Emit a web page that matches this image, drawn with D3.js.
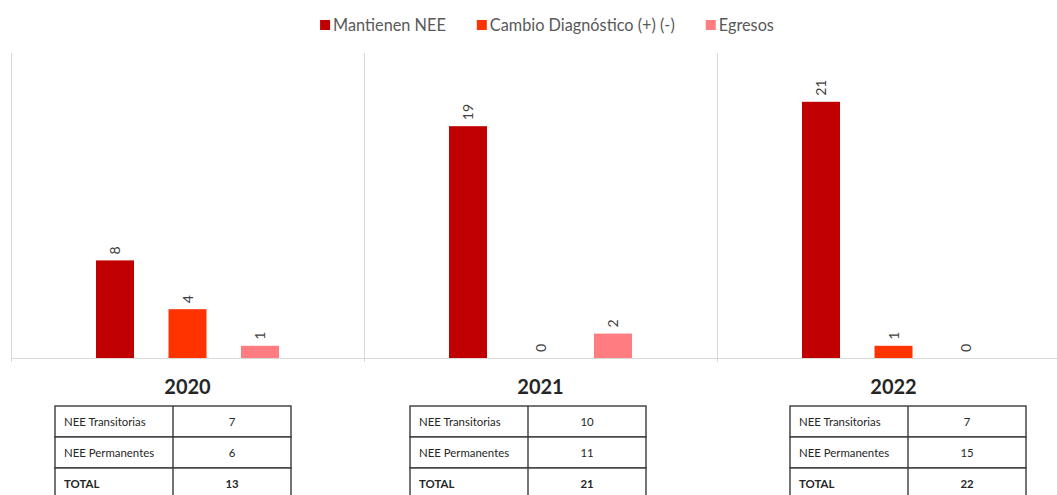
<!DOCTYPE html>
<html>
<head>
<meta charset="utf-8">
<script src="https://cdn.jsdelivr.net/npm/d3@7"></script>
<style>
  html, body { margin: 0; padding: 0; background: #fff; }
  svg { display: block; font-family: Lato, "Open Sans", sans-serif; }
</style>
</head>
<body>
<svg id="chart" width="1057" height="495"></svg>
<script>
// ---- data ----
const years = ["2020", "2021", "2022"];
const seriesNames = ["Mantienen NEE", "Cambio Diagnóstico (+) (-)", "Egresos"];
const mantienen = [8, 19, 21];
const cambio = [4, 0, 1];
const egresos = [1, 2, 0];
const seriesColors = ["#C00000", "#FF3300", "#FF7C80"];
const tableLabels = ["NEE Transitorias", "NEE Permanentes", "TOTAL"];
const transitorias = [7, 10, 7];
const permanentes = [6, 11, 15];
const totals = [13, 21, 22];

// ---- layout ----
const W = 1057, H = 495;
const plotTop = 53, baseY = 358;
const svg = d3.select("#chart");

const x = d3.scaleBand().domain(years).range([11, 1070]).padding(0);
const xs = d3.scalePoint().domain(seriesNames).range([-72.5, 72.5]);
const barW = 38;
const y = d3.scaleLinear().domain([0, 25]).range([baseY, plotTop]);

const seriesValues = [mantienen, cambio, egresos];
const barData = [];
years.forEach((yr, i) => {
  seriesNames.forEach((s, j) => {
    barData.push({ year: yr, series: s, value: seriesValues[j][i], color: seriesColors[j] });
  });
});

// separators (category boundaries)
svg.append("g").selectAll("line").data(years).join("line")
  .attr("x1", d => Math.round(x(d)) + 0.5).attr("x2", d => Math.round(x(d)) + 0.5)
  .attr("y1", plotTop).attr("y2", baseY + 4)
  .attr("stroke", "#d9d9d9").attr("stroke-width", 1);

// axis baseline
svg.append("line")
  .attr("x1", x.range()[0]).attr("x2", x.range()[1])
  .attr("y1", baseY + 0.5).attr("y2", baseY + 0.5)
  .attr("stroke", "#d9d9d9").attr("stroke-width", 1);

// bars
const cx = d => x(d.year) + x.bandwidth() / 2 + xs(d.series);
svg.append("g").selectAll("rect").data(barData).join("rect")
  .attr("x", d => cx(d) - barW / 2)
  .attr("y", d => y(d.value))
  .attr("width", barW)
  .attr("height", d => baseY - y(d.value))
  .attr("fill", d => d.color);

// data labels (rotated)
svg.append("g").selectAll("text").data(barData).join("text")
  .attr("transform", d => `translate(${cx(d) + 5},${y(d.value) - 6}) rotate(-90)`)
  .attr("text-anchor", "start")
  .attr("font-size", 14)
  .attr("fill", "#404040")
  .text(d => d.value);

// year labels
svg.append("g").selectAll("text").data(years).join("text")
  .attr("x", d => x(d) + x.bandwidth() / 2)
  .attr("y", 394)
  .attr("text-anchor", "middle")
  .attr("font-size", 20)
  .attr("font-weight", "bold")
  .attr("fill", "#262626")
  .text(d => d);

// tables
const tableOffsets = [44, 46, 73];
const tW = 236, col1 = 118, rowH = 31, tTop = 406;
years.forEach((yr, i) => {
  const left = Math.round(x(yr) + tableOffsets[i]);
  const g = svg.append("g").attr("transform", `translate(${left},${tTop})`);
  const vals = [transitorias[i], permanentes[i], totals[i]];
  const rows = tableLabels.map((l, k) => ({ label: l, value: vals[k], k }));
  g.selectAll("rect").data(rows).join("rect")
    .attr("x", 0).attr("y", d => d.k * rowH)
    .attr("width", tW).attr("height", rowH)
    .attr("fill", "#fff").attr("stroke", "#3a3a3a").attr("stroke-width", 1.4);
  g.append("line").attr("x1", col1).attr("x2", col1).attr("y1", 0).attr("y2", rowH * 3)
    .attr("stroke", "#3a3a3a").attr("stroke-width", 1.4);
  g.selectAll("text.lbl").data(rows).join("text").attr("class", "lbl")
    .attr("x", 9).attr("y", d => d.k * rowH + rowH / 2 + 4)
    .attr("font-size", 11.4)
    .attr("font-weight", d => d.k === 2 ? "bold" : "normal")
    .attr("fill", "#262626")
    .text(d => d.label);
  g.selectAll("text.val").data(rows).join("text").attr("class", "val")
    .attr("x", col1 + (tW - col1) / 2).attr("y", d => d.k * rowH + rowH / 2 + 4)
    .attr("text-anchor", "middle")
    .attr("font-size", 11.4)
    .attr("font-weight", d => d.k === 2 ? "bold" : "normal")
    .attr("fill", "#262626")
    .text(d => d.value);
});

// legend
const legend = svg.append("g");
let lx = 0;
seriesNames.forEach((s, j) => {
  const it = legend.append("g");
  it.append("rect").attr("x", 0).attr("y", -5).attr("width", 10).attr("height", 10).attr("fill", seriesColors[j]);
  const t = it.append("text").attr("x", 13).attr("y", 5.5).attr("font-size", 16.3).attr("fill", "#595959").text(s);
  const w = 13 + t.node().getComputedTextLength();
  it.attr("transform", `translate(${lx},0)`);
  lx += w + 31;
});
const totalW = lx - 31;
legend.attr("transform", `translate(${547 - totalW / 2},25)`);
</script>
</body>
</html>
